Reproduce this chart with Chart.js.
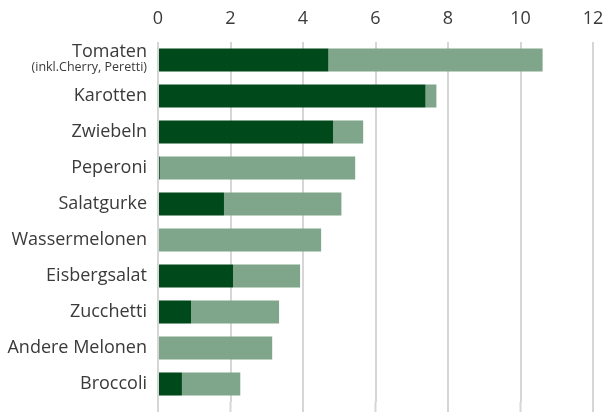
<!DOCTYPE html>
<html>
<head>
<meta charset="utf-8">
<script src="https://cdn.jsdelivr.net/npm/chart.js@4"></script>
<style>
  html, body { margin: 0; padding: 0; background: #fff; }
  #wrap { width: 606px; height: 412px; }
</style>
</head>
<body>
<div id="wrap"><canvas id="chart"></canvas></div>
<script>
// Kategorien (von oben nach unten)
const categories = [
  "Tomaten", "Karotten", "Zwiebeln", "Peperoni", "Salatgurke",
  "Wassermelonen", "Eisbergsalat", "Zucchetti", "Andere Melonen", "Broccoli"
];
const tomatenSub = "(inkl.Cherry, Peretti)";

// dunkler Anteil
const darkValues = [4.70, 7.38, 4.83, 0.05, 1.82, 0, 2.07, 0.91, 0, 0.66];
// heller Anteil (Rest)
const lightValues = [5.91, 0.30, 0.83, 5.39, 3.24, 4.50, 1.85, 2.43, 3.15, 1.61];

const xTicks = [0, 2, 4, 6, 8, 10, 12];

const FONT = "'Open Sans', sans-serif";
const TEXT = "#3a3a3a";
const GRID = "#d6d6d6";

// Untertitel fuer Tomaten kleiner zeichnen
const subLabelPlugin = {
  id: "subLabel",
  beforeDatasetsDraw(chart) {
    // Gitterlinien bis zum unteren Rand verlaengern
    const x = chart.scales.x;
    const ctx = chart.ctx;
    ctx.save();
    ctx.strokeStyle = GRID;
    ctx.lineWidth = 2;
    xTicks.forEach(v => {
      const px = x.getPixelForValue(v);
      ctx.beginPath();
      ctx.moveTo(px, chart.chartArea.bottom);
      ctx.lineTo(px, chart.height);
      ctx.stroke();
    });
    ctx.restore();
  },
  afterDraw(chart) {
    const y = chart.scales.y;
    const ctx = chart.ctx;
    const py = y.getPixelForValue(0);
    ctx.save();
    ctx.fillStyle = TEXT;
    ctx.textAlign = "right";
    ctx.textBaseline = "middle";
    ctx.font = "18px " + FONT;
    ctx.fillText("Tomaten", y.right - 11, py - 8);
    ctx.font = "12.5px " + FONT;
    ctx.fillText(tomatenSub, y.right - 11, py + 7.5);
    ctx.restore();
  }
};

new Chart(document.getElementById("chart"), {
  type: "bar",
  data: {
    labels: categories,
    datasets: [
      {
        label: "dunkel",
        data: darkValues,
        backgroundColor: "#00491a",
        barPercentage: 0.64,
        categoryPercentage: 1.0
      },
      {
        label: "hell",
        data: lightValues,
        backgroundColor: "#7fa68a",
        barPercentage: 0.64,
        categoryPercentage: 1.0
      }
    ]
  },
  options: {
    indexAxis: "y",
    responsive: true,
    maintainAspectRatio: false,
    animation: false,
    layout: { padding: { left: 0, right: 13, top: 0, bottom: 10 } },
    plugins: {
      legend: { display: false },
      tooltip: { enabled: false }
    },
    scales: {
      x: {
        position: "top",
        stacked: true,
        min: 0,
        max: 12,
        afterBuildTicks(scale) {
          scale.ticks = xTicks.map(v => ({ value: v }));
        },
        afterFit(scale) {
          scale.height = 42;
          scale.paddingLeft = 0;
          scale.paddingRight = 0;
        },
        grid: { color: GRID, lineWidth: 2, drawTicks: false },
        border: { display: false },
        ticks: { color: TEXT, font: { family: FONT, size: 18 }, padding: 12 }
      },
      y: {
        stacked: true,
        afterFit(scale) {
          scale.width = 158;
          scale.paddingTop = 0;
          scale.paddingBottom = 0;
        },
        grid: { display: false, drawTicks: false },
        border: { display: false },
        ticks: {
          color: TEXT,
          font: { family: FONT, size: 18 },
          padding: 11,
          callback(value, index) {
            return index === 0 ? "" : categories[index];
          }
        }
      }
    }
  },
  plugins: [subLabelPlugin]
});
</script>
</body>
</html>
